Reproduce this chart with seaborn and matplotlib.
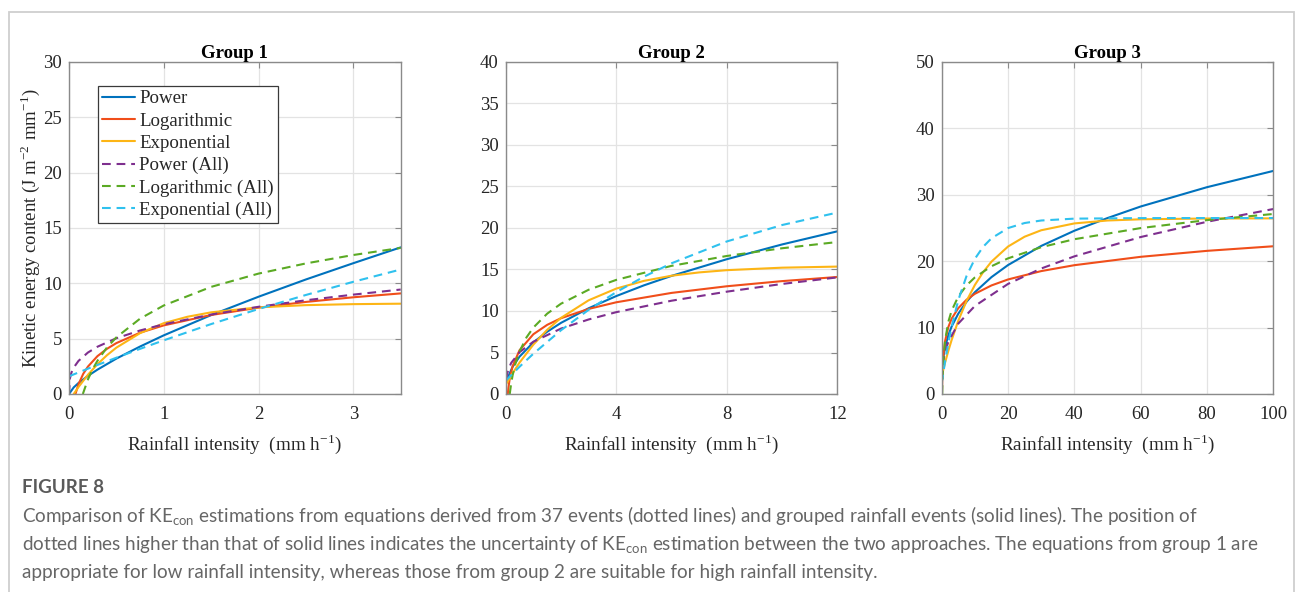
import matplotlib
matplotlib.use("Agg")
import matplotlib.pyplot as plt
import pandas as pd
import seaborn as sns
from matplotlib.patches import Rectangle
from matplotlib.lines import Line2D

# ---------------- data: KE_con (J m-2 mm-1) vs rainfall intensity (mm h-1) ----------------
series_names = ["Power", "Logarithmic", "Exponential",
                "Power (All)", "Logarithmic (All)", "Exponential (All)"]

# Group 1
g1_power_x = [0, 0.05, 0.1, 0.2, 0.3, 0.5, 0.75, 1, 1.5, 2, 2.5, 3, 3.5]
g1_power_y = [0, 0.60, 0.99, 1.64, 2.20, 3.20, 4.29, 5.30, 7.13, 8.79, 10.35, 11.82, 13.25]
g1_log_x = [0.068, 0.1, 0.15, 0.2, 0.3, 0.4, 0.5, 0.75, 1, 1.5, 2, 2.5, 3, 3.5]
g1_log_y = [0, 0.88, 1.82, 2.48, 3.42, 4.08, 4.60, 5.54, 6.20, 7.14, 7.80, 8.32, 8.74, 9.09]
g1_exp_x = [0.05, 0.1, 0.2, 0.3, 0.4, 0.5, 0.75, 1, 1.25, 1.5, 2, 2.5, 3, 3.5]
g1_exp_y = [0, 0.63, 1.74, 2.69, 3.50, 4.19, 5.50, 6.40, 6.98, 7.38, 7.83, 8.03, 8.12, 8.16]
g1_powall_x = [0, 0.01, 0.025, 0.05, 0.1, 0.2, 0.3, 0.5, 0.75, 1, 1.5, 2, 2.5, 3, 3.5]
g1_powall_y = [0, 1.42, 1.92, 2.39, 2.99, 3.75, 4.27, 5.04, 5.74, 6.30, 7.18, 7.88, 8.47, 8.98, 9.44]
g1_logall_x = [0.146, 0.2, 0.25, 0.3, 0.4, 0.5, 0.75, 1, 1.5, 2, 2.5, 3, 3.5]
g1_logall_y = [0, 1.32, 2.25, 3.00, 4.20, 5.12, 6.81, 8.00, 9.68, 10.88, 11.80, 12.56, 13.20]
g1_expall_x = [0, 0.25, 0.5, 0.75, 1, 1.5, 2, 2.5, 3, 3.5]
g1_expall_y = [1.60, 2.46, 3.28, 4.08, 4.85, 6.32, 7.68, 8.95, 10.14, 11.25]

# Group 2
g2_power_x = [0.05, 0.1, 0.25, 0.5, 1, 1.5, 2, 3, 4, 5, 6, 8, 10, 12]
g2_power_y = [1.56, 2.15, 3.28, 4.50, 6.22, 7.50, 8.57, 10.33, 11.80, 13.09, 14.23, 16.24, 18.02, 19.60]
g2_log_x = [0.075, 0.1, 0.15, 0.25, 0.5, 1, 1.5, 2, 3, 4, 6, 8, 10, 12]
g2_log_y = [0, 0.80, 1.93, 3.35, 5.27, 7.20, 8.33, 9.13, 10.25, 11.05, 12.18, 12.98, 13.60, 14.10]
g2_exp_x = [0, 0.25, 0.5, 1, 1.5, 2, 3, 4, 5, 6, 7, 8, 10, 12]
g2_exp_y = [1.10, 2.50, 3.78, 5.95, 7.73, 9.17, 11.29, 12.70, 13.63, 14.25, 14.65, 14.92, 15.22, 15.35]
g2_powall_x = [0, 0.01, 0.025, 0.05, 0.1, 0.2, 0.5, 1, 2, 3, 4, 6, 8, 10, 12]
g2_powall_y = [0, 1.42, 1.92, 2.39, 2.99, 3.75, 5.04, 6.30, 7.88, 8.98, 9.86, 11.24, 12.33, 13.26, 14.05]
g2_logall_x = [0.146, 0.2, 0.25, 0.35, 0.5, 0.75, 1, 1.5, 2, 3, 4, 6, 8, 10, 12]
g2_logall_y = [0, 1.32, 2.25, 3.64, 5.12, 6.81, 8.00, 9.68, 10.88, 12.56, 13.75, 15.44, 16.63, 17.56, 18.31]
g2_expall_x = [0, 0.5, 1, 2, 3, 4, 5, 6, 8, 10, 12]
g2_expall_y = [1.60, 3.28, 4.85, 7.68, 10.14, 12.28, 14.13, 15.75, 18.38, 20.36, 21.86]

# Group 3
g3_power_x = [0, 0.01, 0.1, 0.5, 1, 2, 3, 5, 7.5, 10, 15, 20, 30, 40, 50, 60, 80, 100]
g3_power_y = [0, 1.45, 3.19, 5.52, 6.99, 8.85, 10.17, 12.10, 13.90, 15.33, 17.60, 19.42, 22.30, 24.59, 26.50, 28.24, 31.15, 33.60]
g3_log_x = [0.078, 0.1, 0.2, 0.5, 1, 2, 3, 5, 7.5, 10, 15, 20, 30, 40, 60, 80, 100]
g3_log_y = [0, 0.77, 2.93, 5.77, 7.93, 10.09, 11.35, 12.93, 14.20, 15.09, 16.35, 17.25, 18.51, 19.40, 20.66, 21.56, 22.25]
g3_exp_x = [0, 1, 2, 3, 5, 7.5, 10, 12.5, 15, 20, 25, 30, 40, 50, 60, 80, 100]
g3_exp_y = [2.70, 4.70, 6.50, 8.14, 11.03, 14.02, 16.42, 18.36, 19.93, 22.21, 23.69, 24.66, 25.69, 26.13, 26.31, 26.43, 26.45]
g3_powall_x = [0, 0.01, 0.05, 0.2, 0.5, 1, 2, 5, 10, 20, 30, 40, 60, 80, 100]
g3_powall_y = [0, 1.42, 2.39, 3.75, 5.04, 6.30, 7.88, 10.60, 13.26, 16.58, 18.90, 20.73, 23.64, 25.94, 27.86]
g3_logall_x = [0.146, 0.2, 0.5, 1, 2, 3, 5, 7.5, 10, 15, 20, 30, 40, 60, 80, 100]
g3_logall_y = [0, 1.32, 5.12, 8.00, 10.88, 12.56, 14.68, 16.36, 17.56, 19.24, 20.43, 22.11, 23.31, 24.99, 26.19, 27.11]
g3_expall_x = [0, 1, 2, 3, 5, 7.5, 10, 12.5, 15, 20, 25, 30, 40, 60, 80, 100]
g3_expall_y = [1.60, 4.85, 7.68, 10.14, 14.14, 17.79, 20.36, 22.17, 23.45, 24.99, 25.75, 26.13, 26.41, 26.49, 26.50, 26.50]

group_titles = ["Group 1", "Group 2", "Group 3"]
x_limits = [(0, 3.5), (0, 12), (0, 100)]
x_ticks = [[0, 1, 2, 3], [0, 4, 8, 12], [0, 20, 40, 60, 80, 100]]
y_limits = [(0, 30), (0, 40), (0, 50)]
y_ticks = [list(range(0, 31, 5)), list(range(0, 41, 5)), list(range(0, 51, 10))]

caption_head = "FIGURE 8"
caption_lines = [
    r"Comparison of KE$_{\mathrm{con}}$ estimations from equations derived from 37 events (dotted lines) and grouped rainfall events (solid lines). The position of",
    r"dotted lines higher than that of solid lines indicates the uncertainty of KE$_{\mathrm{con}}$ estimation between the two approaches. The equations from group 1 are",
    "appropriate for low rainfall intensity, whereas those from group 2 are suitable for high rainfall intensity.",
]

groups = [
    [(g1_power_x, g1_power_y), (g1_log_x, g1_log_y), (g1_exp_x, g1_exp_y),
     (g1_powall_x, g1_powall_y), (g1_logall_x, g1_logall_y), (g1_expall_x, g1_expall_y)],
    [(g2_power_x, g2_power_y), (g2_log_x, g2_log_y), (g2_exp_x, g2_exp_y),
     (g2_powall_x, g2_powall_y), (g2_logall_x, g2_logall_y), (g2_expall_x, g2_expall_y)],
    [(g3_power_x, g3_power_y), (g3_log_x, g3_log_y), (g3_exp_x, g3_exp_y),
     (g3_powall_x, g3_powall_y), (g3_logall_x, g3_logall_y), (g3_expall_x, g3_expall_y)],
]

# ---------------- styling ----------------
colors = {
    "Power": "#0072BD",
    "Logarithmic": "#F04E1A",
    "Exponential": "#FDB515",
    "Power (All)": "#7E2F8E",
    "Logarithmic (All)": "#5BAA24",
    "Exponential (All)": "#2FC1EE",
}
dash = (4.2, 2.8)
dashes = {n: ("" if "(All)" not in n else dash) for n in series_names}

sns.set_theme(style="white")
serif = ["Liberation Serif", "DejaVu Serif"]
plt.rcParams["font.family"] = serif
plt.rcParams["mathtext.fontset"] = "custom"
plt.rcParams["mathtext.rm"] = "Lato"
plt.rcParams["mathtext.it"] = "Lato:italic"

fig = plt.figure(figsize=(12.95, 5.92), dpi=100)
fig.patch.set_facecolor("white")

# light frame around figure and caption
fig.add_artist(Rectangle((9 / 1295, -0.05), (1294 - 9) / 1295, 1.05 - 12 / 592,
                         transform=fig.transFigure, fill=False,
                         edgecolor="#cfcfcf", linewidth=1.3))

ax_lefts = [69, 505.7, 941.7]
ax_w, ax_h = 331.7, 332
ax_bottom = 592 - 394

frame_col = "#8a8a8a"
text_col = "#262626"
fs = 13.5

axes = []
for gi in range(3):
    ax = fig.add_axes([ax_lefts[gi] / 1295, ax_bottom / 592, ax_w / 1295, ax_h / 592])
    rows = []
    for name, (xs, ys) in zip(series_names, groups[gi]):
        for xv, yv in zip(xs, ys):
            rows.append({"x": xv, "y": yv, "model": name})
    df = pd.DataFrame(rows)
    sns.lineplot(data=df, x="x", y="y", hue="model", style="model",
                 hue_order=series_names, style_order=series_names,
                 palette=colors, dashes=dashes, estimator=None, sort=False,
                 linewidth=1.5, legend=False, ax=ax)
    ax.set_xlim(*x_limits[gi])
    ax.set_ylim(*y_limits[gi])
    ax.set_xticks(x_ticks[gi])
    ax.set_yticks(y_ticks[gi])
    ax.grid(True, color="#e3e3e3", linewidth=0.9)
    ax.set_axisbelow(True)
    for sp in ax.spines.values():
        sp.set_color(frame_col)
        sp.set_linewidth(1.0)
    ax.tick_params(direction="in", top=True, right=True, length=4, width=0.8,
                   color=frame_col, labelsize=fs, labelcolor=text_col)
    ax.tick_params(axis="x", pad=8.5)
    ax.tick_params(axis="y", pad=5)
    ax.set_title(group_titles[gi], fontsize=fs, fontweight="bold", color="black", pad=3)
    ax.set_xlabel(r"Rainfall intensity  (mm h$^{\mathregular{-1}}$)", fontsize=13.8,
                  color=text_col, labelpad=7, math_fontfamily="stix")
    ax.set_ylabel("")
    axes.append(ax)

axes[0].set_ylabel(r"Kinetic energy content (J m$^{\mathregular{-2}}$ mm$^{\mathregular{-1}}$)",
                   fontsize=fs, color=text_col, labelpad=1, math_fontfamily="stix")

# legend on the first panel
handles = [Line2D([0], [0], color=colors[n], linewidth=1.5,
                  linestyle="-" if "(All)" not in n else (0, dash)) for n in series_names]
leg = axes[0].legend(handles, series_names, loc="upper left",
                     bbox_to_anchor=(0.088, 0.928), fontsize=13.6, frameon=True,
                     fancybox=False, edgecolor="#3a3a3a", framealpha=1,
                     handlelength=1.75, handletextpad=0.2, labelspacing=0.27,
                     borderpad=0.22, borderaxespad=0)
leg.get_frame().set_linewidth(0.9)
for t in leg.get_texts():
    t.set_color(text_col)

# caption
cap_family = ["Lato", "DejaVu Sans"]
fig.text(22 / 1295, 1 - 493 / 592, caption_head, fontsize=13.5, color="#5a5a5a",
         family=cap_family, fontweight="bold", va="baseline", ha="left")
for i, line in enumerate(caption_lines):
    fig.text(22 / 1295, 1 - (522 + 28 * i) / 592, line, fontsize=13.6, color="#666666",
             family=cap_family, va="baseline", ha="left", math_fontfamily="custom")

fig.savefig("out.png", dpi=100, facecolor="white")
